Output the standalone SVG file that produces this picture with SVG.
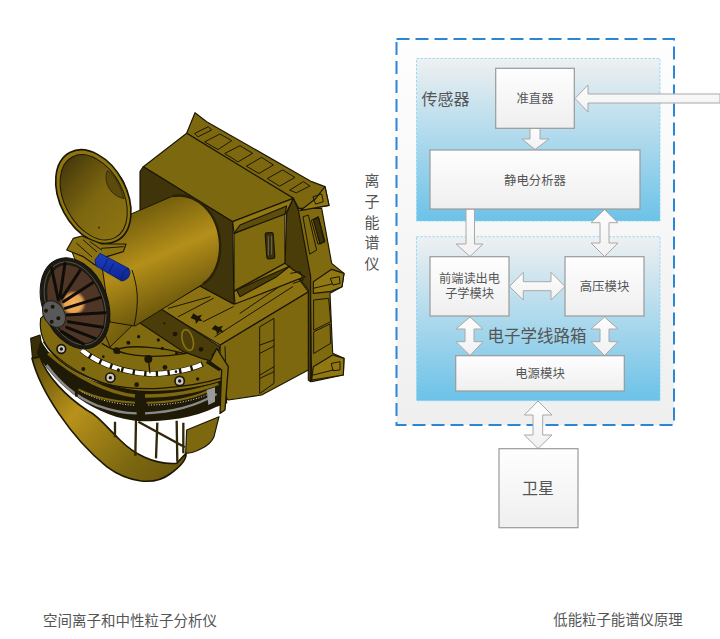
<svg xmlns="http://www.w3.org/2000/svg" width="720" height="639" viewBox="0 0 720 639">
<style>
text{font-family:"Noto Sans CJK SC","Noto Sans",sans-serif;fill:#555;text-anchor:middle;dominant-baseline:central}
.box{fill:url(#boxG);stroke:#9a9a9a;stroke-width:1.2}
.arrow{fill:url(#arrG);stroke:#a8a8a8;stroke-width:1}
.panel{stroke:#7fd6f5;stroke-width:.8;stroke-dasharray:2.5 1.5;fill:url(#panelG)}
.l{fill:none;stroke:#1c1704;stroke-width:3;stroke-linejoin:round;stroke-linecap:round}
.k{stroke:#1c1704;stroke-width:3.5;stroke-linejoin:round}
.t{stroke:#1c1704;stroke-width:5;fill:none;stroke-linecap:round}
.d{fill:#1c1704}
</style>
<defs>
<linearGradient id="panelG" x1="0" y1="0" x2="0" y2="1"><stop offset="0" stop-color="#eff0f1"/><stop offset="1" stop-color="#6cc2e8"/></linearGradient>
<linearGradient id="outerG" x1="0" y1="0" x2="0" y2="1"><stop offset="0" stop-color="#fefefe"/><stop offset="1" stop-color="#efefef"/></linearGradient>
<linearGradient id="boxG" x1="0" y1="0" x2="0" y2="1"><stop offset="0" stop-color="#fefefe"/><stop offset="1" stop-color="#efefef"/></linearGradient>
<linearGradient id="arrG" x1="0" y1="0" x2="0" y2="1"><stop offset="0" stop-color="#fdfdfd"/><stop offset="1" stop-color="#f1f1f1"/></linearGradient>
<linearGradient id="cylG" gradientUnits="userSpaceOnUse" x1="150" y1="200" x2="195" y2="300"><stop offset="0" stop-color="#6e5a0c"/><stop offset=".5" stop-color="#b48f1a"/><stop offset="1" stop-color="#6a560b"/></linearGradient>
<linearGradient id="neckG" x1="0" y1="0" x2="1" y2="1"><stop offset="0" stop-color="#9a7d14"/><stop offset=".6" stop-color="#8b7010"/><stop offset="1" stop-color="#5e4d0a"/></linearGradient>
<linearGradient id="dishG" x1="0" y1="0" x2=".25" y2="1"><stop offset="0" stop-color="#3d320a"/><stop offset=".6" stop-color="#7c6610"/><stop offset="1" stop-color="#8a7212"/></linearGradient>
<linearGradient id="scoopG" gradientUnits="userSpaceOnUse" x1="50" y1="200" x2="470" y2="560"><stop offset="0" stop-color="#5f4e0a"/><stop offset=".35" stop-color="#b8921a"/><stop offset=".75" stop-color="#7d6810"/><stop offset="1" stop-color="#6a570c"/></linearGradient>
<radialGradient id="glowG"><stop offset="0" stop-color="#f5b45a"/><stop offset=".7" stop-color="#e8a050"/><stop offset="1" stop-color="#5a3d2a"/></radialGradient>
<linearGradient id="blueG" x1="0" y1="0" x2="0" y2="1"><stop offset="0" stop-color="#1d3fc0"/><stop offset="1" stop-color="#0c2490"/></linearGradient>
</defs>
<rect width="720" height="639" fill="#fff"/>

<g id="instrument">
<g transform="translate(140 100) scale(.33333)">
<path class="k" fill="#7d680f" d="M140,100 L165,38 L200,65 L515,245 L555,260 L567,316 L480,332 L460,295Z"/>
<path class="l" d="M165,100 L205,80 L215,90 L175,110ZM195,125 L240,102 L275,122 L235,148ZM255,160 L300,137 L338,160 L295,185ZM320,198 L365,172 L400,195 L358,220ZM383,235 L428,210 L465,232 L420,258ZM450,270 L490,245 L510,258 L470,278Z"/>
<path class="k" fill="#7f6a10" d="M470,325 L545,325 L575,490 L612,520 L606,560 L570,580 L578,760 L612,775 L610,825 L515,845 L510,530Z"/>
<path class="k" fill="#4a3d0a" d="M440,340 L460,295 L475,330 L512,530 L512,845 L505,840 L505,570 L460,510 L435,495Z"/>
<path class="k" fill="#917812" d="M480,332 L525,298 L555,260 L567,316Z"/>
<path class="l" d="M520,290 L545,282 L550,305 L528,312ZM490,350 L505,345 L530,450 L510,462ZM515,360 L535,350 L555,425 L535,432Z"/>
<path class="k" fill="#3b3108" d="M520,360 L535,352 L553,425 L540,432Z"/>
<path class="k" fill="#917812" d="M520,545 L575,508 L612,520 L606,560 L570,575 L520,580Z"/>
<path class="l" d="M572,535 L598,530 L600,550 L580,555ZM520,565 L575,552"/>
<path class="k" fill="#917812" d="M515,840 L520,800 L578,765 L612,775 L610,825Z"/>
<path class="l" d="M575,790 L600,785 L600,810 L580,812ZM520,825 L580,810"/>
<path class="l" d="M522,600 L566,595 L572,665 L522,690ZM522,695 L570,672 L572,730 L522,760Z"/>
<path class="k" fill="#7d680f" d="M240,735 L505,575 L505,810 L365,885 L265,900 L240,880Z"/>
<path class="l" d="M255,740 L260,900"/>
<path class="l" d="M360,680 L402,655 L402,850 L360,880ZM360,735 L402,720M360,760 L402,738M360,825 L402,800M360,835 L402,815"/>
<path class="t" d="M275,700 L300,690M335,670 L358,660M385,640 L410,630M440,612 L495,580"/>
<path class="k" fill="#8a7212" d="M60,628 L180,558 L280,612 L458,512 L505,575 L240,735Z"/>
<path class="l" d="M85,625 L210,590M115,650 L220,595M190,665 L280,620M225,710 L458,560M300,640 L440,545"/>
<path class="d" d="M160,640 l12,8 l14,-4 l-6,10 l8,10 l-12,-2 l-8,10 l-2,-12 l-14,-6zM225,675 l10,6 l14,-4 l-6,10 l8,10 l-12,-2 l-8,10 l-2,-12 l-14,-6z"/>
<path class="k" fill="#7c680e" d="M10,200 L140,100 L460,295 L278,365Z"/>
<path class="k" fill="#3f340a" d="M10,200 L278,365 L282,612 L180,558 L0,650 L0,215Z"/>
<path class="k" fill="#917812" d="M278,365 L460,295 L438,340 L282,400Z"/>
<path class="k" fill="#806a10" d="M282,400 L435,342 L435,490 L282,572Z"/>
<path class="k" fill="#5e4e0c" d="M282,400 L300,375 L440,318 L435,342Z"/>
<rect class="k" x="378" y="398" width="24" height="78" rx="5" fill="#3a3008" transform="rotate(-4 390 437)"/>
<path class="l" d="M385,410 L385,465M395,408 L395,463" style="stroke:#888;stroke-width:2"/>
<path class="k" fill="#917812" d="M282,575 L435,490 L460,510 L495,530 L285,612Z"/>
<path class="k" fill="#4a3d0a" d="M290,570 L450,498 L410,530 L300,590Z"/>
<path class="l" d="M452,520 L480,515 L490,540 L460,550"/>
</g>

<g transform="translate(20 290) scale(.33333)">
<path class="k" fill="#3a3008" d="M32,145 L60,135 L70,200 L38,210Z"/>
<path d="M240,375 L285,395 L490,398 L495,490 L470,518 C400,510 340,470 240,375Z" fill="#fff"/>
<path class="k" style="stroke-width:5" fill="url(#scoopG)" d="M36,205 C60,300 150,440 260,530 C320,575 400,590 450,552 C478,532 500,510 498,490 L470,520 C400,525 340,490 300,450 C250,400 230,375 200,360 C140,320 80,260 60,200Z"/>
<path class="k" fill="#7d680f" d="M500,420 L597,380 L582,440 C570,470 520,490 497,490Z"/>
<path d="M285,395 L285,442M348,390 L346,497M412,398 L408,505M470,392 L472,515M355,395 L495,472M490,398 L490,490" fill="none" stroke="#2f2707" stroke-width="7"/>
<path fill="#1f1a06" d="M62,150 C110,240 230,290 360,300 C450,300 540,280 612,255 L622,340 L590,350 C520,385 440,394 360,394 C230,384 110,292 50,190Z"/>
<path d="M85,190 C170,265 270,310 345,318M375,318 C450,318 530,305 595,280" fill="none" stroke="#7d680f" stroke-width="10"/>
<path d="M80,225 C120,280 170,322 230,346 C280,364 320,370 350,370M375,370 C450,367 530,347 590,312" fill="none" stroke="#8a8a8a" stroke-width="7"/>
<path d="M175,298 C230,326 290,335 345,338M380,338 C450,338 510,328 565,303" fill="none" stroke="#7d680f" stroke-width="6"/>
<path d="M185,305 C230,330 290,342 345,346M385,345 C450,345 510,335 560,315" fill="none" stroke="#d8d8d8" stroke-width="3" stroke-dasharray="3 5"/>
<path d="M560,300 L585,292 L585,335 L565,345Z" fill="#9a9a9a"/>
<path d="M165,280 L170,320M352,315 L358,385" stroke="#1f1a06" stroke-width="8" fill="none"/>
<path class="k" fill="#806a0f" d="M62,85 C55,140 80,175 110,200 C190,268 300,305 390,305 C470,305 560,290 612,270 L612,230 L590,215 L350,90 L290,100 L240,50 L120,30Z"/>
<path d="M70,155 C100,205 160,250 250,280 C310,295 370,298 420,295 C490,290 560,278 612,262" fill="none" stroke="#1c1704" stroke-width="3.500"/>
<path d="M185,180 C240,225 320,250 400,252 C450,250 510,240 548,222" fill="none" stroke="#1c1704" stroke-width="17"/>
<path d="M185,180 C240,225 320,250 400,252 C450,250 510,240 548,222" fill="none" stroke="#fff" stroke-width="13" stroke-dasharray="28 7"/>
<path d="M245,160 C300,195 370,210 500,190M280,180 L300,190M385,205 L390,250M290,180 C330,160 440,175 490,190" fill="none" stroke="#1c1704" stroke-width="4"/>
<circle class="d" cx="385" cy="207" r="12"/><circle class="d" cx="290" cy="182" r="10"/>
<g class="d">
<circle cx="325" cy="158" r="6"/><circle cx="356" cy="140" r="5"/><circle cx="415" cy="150" r="5"/><circle cx="427" cy="175" r="5"/><circle cx="470" cy="190" r="5"/><circle cx="190" cy="237" r="6"/><circle cx="190" cy="170" r="5"/><circle cx="350" cy="284" r="7"/><circle cx="533" cy="267" r="5"/><circle cx="435" cy="232" r="7"/><circle cx="468" cy="245" r="4"/><circle cx="295" cy="240" r="5"/><circle cx="250" cy="200" r="4"/>
</g>
<g fill="#c9c9c9" stroke="#1c1704" stroke-width="5">
<circle cx="124" cy="177" r="13"/><circle cx="271" cy="263" r="14"/><circle cx="479" cy="273" r="14"/>
</g>
<g class="d"><circle cx="124" cy="177" r="5"/><circle cx="271" cy="263" r="5"/><circle cx="479" cy="273" r="5"/></g>
<path class="k" fill="#4a3d0a" d="M350,92 L420,55 L600,170 L590,218 L545,205 L490,185Z"/>
<ellipse cx="503" cy="150" rx="16" ry="32" transform="rotate(-15 503 150)" fill="#4a3d0a" stroke="#8a7212" stroke-width="5"/>
<g class="d"><circle cx="433" cy="100" r="3"/><circle cx="465" cy="132" r="7"/><circle cx="543" cy="178" r="7"/><circle cx="580" cy="195" r="5"/></g>
<path d="M590,175 L625,230 L615,360 L600,370 L605,240L570,215Z" fill="#7f6a10" stroke="#1c1704" stroke-width="4" stroke-linejoin="round"/>
<path d="M560,215 L600,240" stroke="#1c1704" stroke-width="9" fill="none"/>
</g>

<path fill="url(#neckG)" stroke="#1c1704" stroke-width="1" d="M70,247 L97,247 C125,258 140,290 140,318 L110,347Z"/>
<path stroke="#1c1704" stroke-width="1" fill="url(#cylG)" d="M100,252 L131,214 L173,196 C196,192 218,212 220,243 C221,262 214,277 203,284 L135,326 L110,322Z"/>
<path d="M173,196 C196,192 218,212 220,243 C221,262 214,277 203,284" fill="none" stroke="#2a2206" stroke-width="2.400"/>
<path d="M132,270 C137,285 140,300 134,326" fill="none" stroke="#1c1704" stroke-width="1"/>

<g transform="translate(20 100) scale(.33333)">
<path class="k" fill="#6c5a0e" d="M270,205 C310,225 325,265 325,320 L290,290Z"/>
<ellipse cx="220" cy="290" rx="100" ry="150" transform="rotate(-28 220 290)" fill="#8d7612" stroke="#1c1704" stroke-width="5"/>
<ellipse cx="221" cy="292" rx="88" ry="137" transform="rotate(-28 221 292)" fill="url(#dishG)" stroke="#1c1704" stroke-width="3"/>
<path d="M262,212 C250,240 265,285 312,296 C300,255 285,225 262,212Z" fill="#5b4b0c" stroke="#1c1704" stroke-width="2"/>
<circle class="d" cx="237" cy="383" r="2.500"/>
<path class="k" fill="#8a7212" d="M140,450 L160,415 L185,408 L245,432 L318,432 L310,455 L260,470 L225,495 L190,470Z"/>
<path class="l" d="M170,430 L215,470M190,420 L230,455M210,425 L245,450M245,445 L310,440"/>
<path d="M225,480 L240,460 L325,505 C335,515 330,540 305,543 L228,498Z" fill="url(#blueG)" stroke="#0a1a66" stroke-width="2.500"/>
<path d="M262,478 C258,490 250,505 246,508M280,490 C276,500 270,512 265,520M327,505 C312,510 303,525 305,543" fill="none" stroke="#0a1a66" stroke-width="2.500"/>
</g>

<g transform="translate(30 240) scale(.33333)">
<ellipse cx="135" cy="190" rx="97" ry="142" transform="rotate(-22 135 190)" fill="#1e1a10" stroke="#111" stroke-width="3"/>
<ellipse cx="135" cy="190" rx="85" ry="130" transform="rotate(-22 135 190)" fill="none" stroke="#7f7f7f" stroke-width="1.500"/>
<ellipse cx="137" cy="192" rx="78" ry="122" transform="rotate(-22 137 192)" fill="#4f3526"/>
<ellipse cx="130" cy="190" rx="38" ry="38" fill="url(#glowG)"/>
<path d="M85,180 L65,85M90,170 L105,70M95,175 L150,92M100,185 L188,128M105,205 L212,172M110,225 L225,218M115,245 L218,262M110,262 L195,295M95,275 L160,312" stroke="#0f0d08" stroke-width="9" fill="none" stroke-linecap="round"/>
<ellipse cx="72" cy="222" rx="31" ry="43" transform="rotate(-32 72 222)" fill="#59595a" stroke="#222" stroke-width="3"/>
<g class="d"><circle cx="48" cy="212" r="6"/><circle cx="68" cy="200" r="6"/><circle cx="85" cy="235" r="6"/><circle cx="65" cy="245" r="6"/></g>
</g>
</g>

<g id="instrument-frame">
<rect x="396.500" y="39" width="277.500" height="386" fill="url(#outerG)" stroke="#2a86d8" stroke-width="2" stroke-dasharray="13 6"/>
</g>
<g id="sensor-panel"><rect class="panel" x="416.500" y="58.500" width="243.500" height="162.500"/><text x="445.500" y="98" font-size="16">传感器</text></g>
<g id="electronics-panel"><rect class="panel" x="416.500" y="236.700" width="243.500" height="164"/><text x="537" y="335" font-size="16.500">电子学线路箱</text></g>

<g id="connectors">
<path class="arrow" d="M720,94 L588,94 L588,85 L575,98.500 L588,112 L588,103 L720,103Z"/>
<path class="arrow" d="M530,128 L540,128 L540,139 L549,139 L535,149.500 L522,139 L530,139Z"/>
<path class="arrow" d="M466,209 L474.500,209 L474.500,244 L483,244 L470,256.500 L456,244 L466,244Z"/>
<path class="arrow" d="M604.500,209.500 L618,222.700 L609,222.700 L609,243 L618,243 L604.500,256.500 L591,243 L600,243 L600,222.700 L591,222.700Z"/>
<path class="arrow" d="M509.500,286.500 L523.300,272.300 L523.300,281.700 L551,281.700 L551,272.300 L565,286.500 L551,300 L551,290.700 L523.300,290.700 L523.300,300Z"/>
<path class="arrow" d="M470,317 L483,329 L474,329 L474,341.700 L483,341.700 L470,355.500 L456,341.700 L465,341.700 L465,329 L456,329Z"/>
<path class="arrow" d="M604.500,317 L618,329 L609,329 L609,341.700 L618,341.700 L604.500,355.500 L591,341.700 L600,341.700 L600,329 L591,329Z"/>
<path class="arrow" d="M538,401 L552,415 L542.700,415 L542.700,435 L552,435 L538,448.500 L524.300,435 L533,435 L533,415 L524.300,415Z"/>
</g>

<g id="collimator"><rect class="box" x="495.700" y="68.300" width="78.600" height="60"/><text x="535" y="98" font-size="12.400">准直器</text></g>
<g id="analyzer"><rect class="box" x="430" y="150" width="210" height="59"/><text x="535" y="179.500" font-size="12.400">静电分析器</text></g>
<g id="frontend"><rect class="box" x="430" y="256.700" width="79" height="59.300"/><text font-size="12.200"><tspan x="469.500" y="277.500">前端读出电</tspan><tspan x="469.500" y="293">子学模块</tspan></text></g>
<g id="hv"><rect class="box" x="565" y="256.700" width="79" height="59.300"/><text x="604.500" y="286" font-size="12.400">高压模块</text></g>
<g id="power"><rect class="box" x="455.700" y="355.700" width="168.600" height="35.300"/><text x="540" y="373" font-size="12.400">电源模块</text></g>
<g id="satellite"><rect class="box" x="499" y="448.700" width="79" height="79"/><text x="538" y="487" font-size="16">卫星</text></g>

<g id="labels">
<text x="372" y="179" font-size="15">离</text><text x="372" y="200" font-size="15">子</text><text x="372" y="221" font-size="15">能</text><text x="372" y="241" font-size="15">谱</text><text x="372" y="262" font-size="15">仪</text>
<text x="130" y="619" font-size="14.500">空间离子和中性粒子分析仪</text>
<text x="618" y="618" font-size="14.400">低能粒子能谱仪原理</text>
</g>
</svg>
